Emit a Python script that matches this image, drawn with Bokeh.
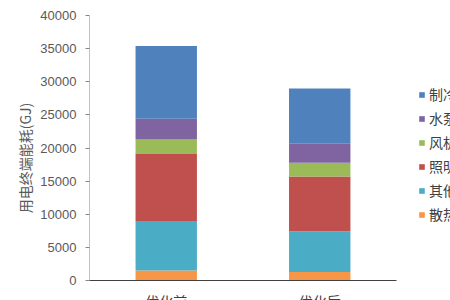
from bokeh.plotting import figure
from bokeh.models import Range1d, Legend, LegendItem, FixedTicker, NumeralTickFormatter
from bokeh.core.properties import value
from bokeh.embed import file_html
from bokeh.resources import INLINE

categories = ["优化前", "优化后"]
# stacked bottom to top
series_names = ["散热设备", "其他", "照明", "风机", "水泵", "制冷机组"]
heat = [1500, 1300]
other = [7500, 6150]
lighting = [10100, 8250]
fan = [2200, 2070]
pump = [3100, 2860]
cooling = [11000, 8350]
y_ticks = [0, 5000, 10000, 15000, 20000, 25000, 30000, 35000, 40000]
colors = ["#F79646", "#4BACC6", "#C0504D", "#9BBB59", "#8064A2", "#4F81BD"]

keys = ["heat", "other", "lighting", "fan", "pump", "cooling"]
xpos = [i + 0.5 for i in range(len(categories))]
data = dict(x=xpos, cat=categories, heat=heat, other=other, lighting=lighting,
            fan=fan, pump=pump, cooling=cooling)

ymax = y_ticks[-1]
ymin = -ymax * 20 / 265  # room below the baseline for category labels

p = figure(width=450, height=300, output_backend="svg", toolbar_location=None,
           x_range=Range1d(0, 2.352), y_range=Range1d(ymin, ymax),
           min_border_left=89, min_border_right=0, min_border_top=15,
           min_border_bottom=0)
p.outline_line_color = None
p.background_fill_color = "white"
p.border_fill_color = "white"
p.xgrid.visible = False
p.ygrid.visible = False
p.xaxis.visible = False

renderers = p.vbar_stack(keys, x="x", width=0.4, color=colors, source=data,
                         line_color=None)

font = "Noto Sans CJK SC"

# axis lines
p.segment(x0=[0], y0=[0], x1=[0], y1=[ymax], line_color="#868686", line_width=1)
p.segment(x0=[-0.04], y0=[0], x1=[len(categories)], y1=[0], line_color="#404040",
          line_width=1)

# category labels
p.text(x="x", y=-1660, text="cat", source=data, text_align="center",
       text_baseline="top", text_font=value(font), text_font_size="14px",
       text_color="#404040")

yax = p.yaxis[0]
yax.ticker = FixedTicker(ticks=y_ticks)
yax.formatter = NumeralTickFormatter(format="0")
yax.minor_tick_line_color = None
yax.major_tick_in = 0
yax.major_tick_out = 4
yax.axis_line_color = None
yax.major_tick_line_color = "#868686"
yax.major_label_text_font = "Liberation Sans"
yax.major_label_text_font_size = "13px"
yax.major_label_text_color = "#595959"
yax.major_label_standoff = 9
yax.axis_label = "用电终端能耗(GJ)"
yax.axis_label_text_font = font
yax.axis_label_text_font_style = "normal"
yax.axis_label_text_font_size = "14px"
yax.axis_label_text_color = "#595959"
yax.axis_label_standoff = 2

items = [LegendItem(label=series_names[i], renderers=[renderers[i]])
         for i in reversed(range(len(series_names)))]
legend = Legend(items=items, location=(329, 76), padding=0, margin=0,
                glyph_width=7, glyph_height=7, label_height=16, spacing=4,
                label_standoff=4, label_text_font=font,
                label_text_font_size="14px", label_text_color="#404040",
                border_line_alpha=0, background_fill_alpha=0)
p.add_layout(legend, "center")

open("out.html", "w").write(file_html(p, INLINE))
